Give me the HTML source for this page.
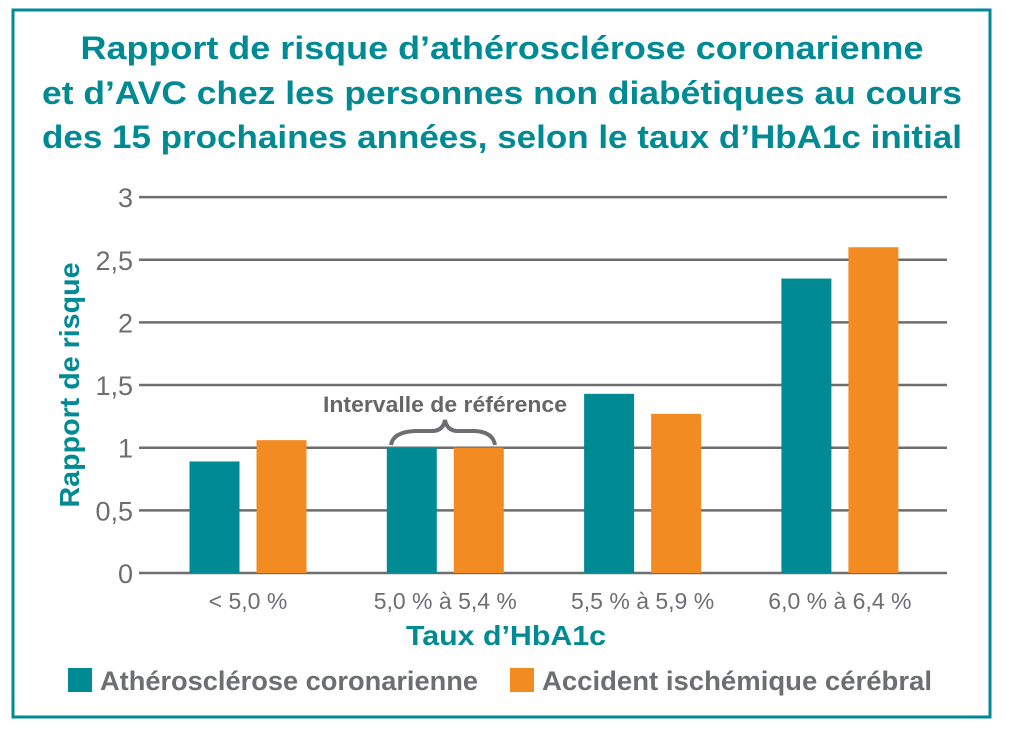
<!DOCTYPE html>
<html><head><meta charset="utf-8"><style>
body{margin:0;background:#fff;}
svg{display:block;font-family:"Liberation Sans",sans-serif;}
</style></head><body>
<svg id="chart" width="1009" height="733" viewBox="0 0 1009 733">
<rect x="13" y="10" width="977" height="707" fill="none" stroke="#008a94" stroke-width="3"/>
<g fill="#008a94" font-weight="bold" font-size="32" text-anchor="middle" lengthAdjust="spacingAndGlyphs">
<text x="502" y="59" textLength="843" lengthAdjust="spacingAndGlyphs">Rapport de risque d’athérosclérose coronarienne</text>
<text x="502" y="104" textLength="920" lengthAdjust="spacingAndGlyphs">et d’AVC chez les personnes non diabétiques au cours</text>
<text x="502" y="148" textLength="920" lengthAdjust="spacingAndGlyphs">des 15 prochaines années, selon le taux d’HbA1c initial</text>
</g>
<g id="grid"></g>
<g id="bars"></g>
<g id="xlabels"></g>
<text x="79" y="385" transform="rotate(-90 79 385)" text-anchor="middle" font-size="28" font-weight="bold" fill="#008a94" textLength="245" lengthAdjust="spacingAndGlyphs">Rapport de risque</text>
<text x="506" y="645" text-anchor="middle" font-size="28" font-weight="bold" fill="#008a94" textLength="200" lengthAdjust="spacingAndGlyphs">Taux d’HbA1c</text>
<g>
<text x="445" y="412" text-anchor="middle" font-size="22" fill="#666" font-weight="bold" textLength="244" lengthAdjust="spacingAndGlyphs">Intervalle de référence</text>
<path d="M391 445 Q393 432 415 431 L432 431 Q443 431 445 420 Q447 431 458 431 L475 431 Q493 432 495 445" fill="none" stroke="#6d6e71" stroke-width="4"/>
</g>
<g>
<rect x="68" y="668" width="24" height="24" fill="#008a94"/>
<text x="100" y="690" font-size="27" font-weight="bold" fill="#6d6e71" textLength="378" lengthAdjust="spacingAndGlyphs">Athérosclérose coronarienne</text>
<rect x="510" y="668" width="24" height="24" fill="#f28c22"/>
<text x="542" y="690" font-size="27" font-weight="bold" fill="#6d6e71" textLength="390" lengthAdjust="spacingAndGlyphs">Accident ischémique cérébral</text>
</g>
</svg>
<script>
const categories = ["< 5,0 %", "5,0 % à 5,4 %", "5,5 % à 5,9 %", "6,0 % à 6,4 %"];
const seriesAthero = [0.89, 1.0, 1.43, 2.35];
const seriesAvc = [1.06, 1.0, 1.27, 2.6];
const yTicks = [0, 0.5, 1, 1.5, 2, 2.5, 3];
const yTickLabels = ["0", "0,5", "1", "1,5", "2", "2,5", "3"];

const NS = "http://www.w3.org/2000/svg";
const y0 = 573, pxPerUnit = 125.3, xLeft = 139, xRight = 947;
const groupStart = 248, groupStep = 197.3, barW = 50, barGap = 17;
function yScale(v){ return y0 - v * pxPerUnit; }
function xCenter(i){ return groupStart + i * groupStep; }
function mk(tag, attrs){ const e = document.createElementNS(NS, tag); for (const k in attrs) e.setAttribute(k, attrs[k]); return e; }

const grid = document.getElementById('grid');
yTicks.forEach((t, i) => {
  const l = mk('line', {x1: xLeft, x2: xRight, y1: yScale(t), y2: yScale(t), stroke: '#6d6e71', 'stroke-width': 2.5});
  
  
  grid.appendChild(l);
  const tx = mk('text', {x: 133, y: yScale(t) + 10, 'text-anchor': 'end', 'font-size': 27, fill: '#6d6e71'});
  tx.textContent = yTickLabels[i];
  
  
  grid.appendChild(tx);
});

const bars = document.getElementById('bars');
const xl = document.getElementById('xlabels');
categories.forEach((c, i) => {
  const cx = xCenter(i);
  const a = mk('rect', {x: cx - barGap/2 - barW, y: yScale(seriesAthero[i]), width: barW, height: y0 - yScale(seriesAthero[i]), fill: '#008a94'});
  
  
  bars.appendChild(a);
  const b = mk('rect', {x: cx + barGap/2, y: yScale(seriesAvc[i]), width: barW, height: y0 - yScale(seriesAvc[i]), fill: '#f28c22'});
  
  
  bars.appendChild(b);
  const t = mk('text', {x: cx, y: 609, 'text-anchor': 'middle', 'font-size': 23, fill: '#6d6e71'});
  t.textContent = c;
  
  
  xl.appendChild(t);
});
</script>
</body></html>
